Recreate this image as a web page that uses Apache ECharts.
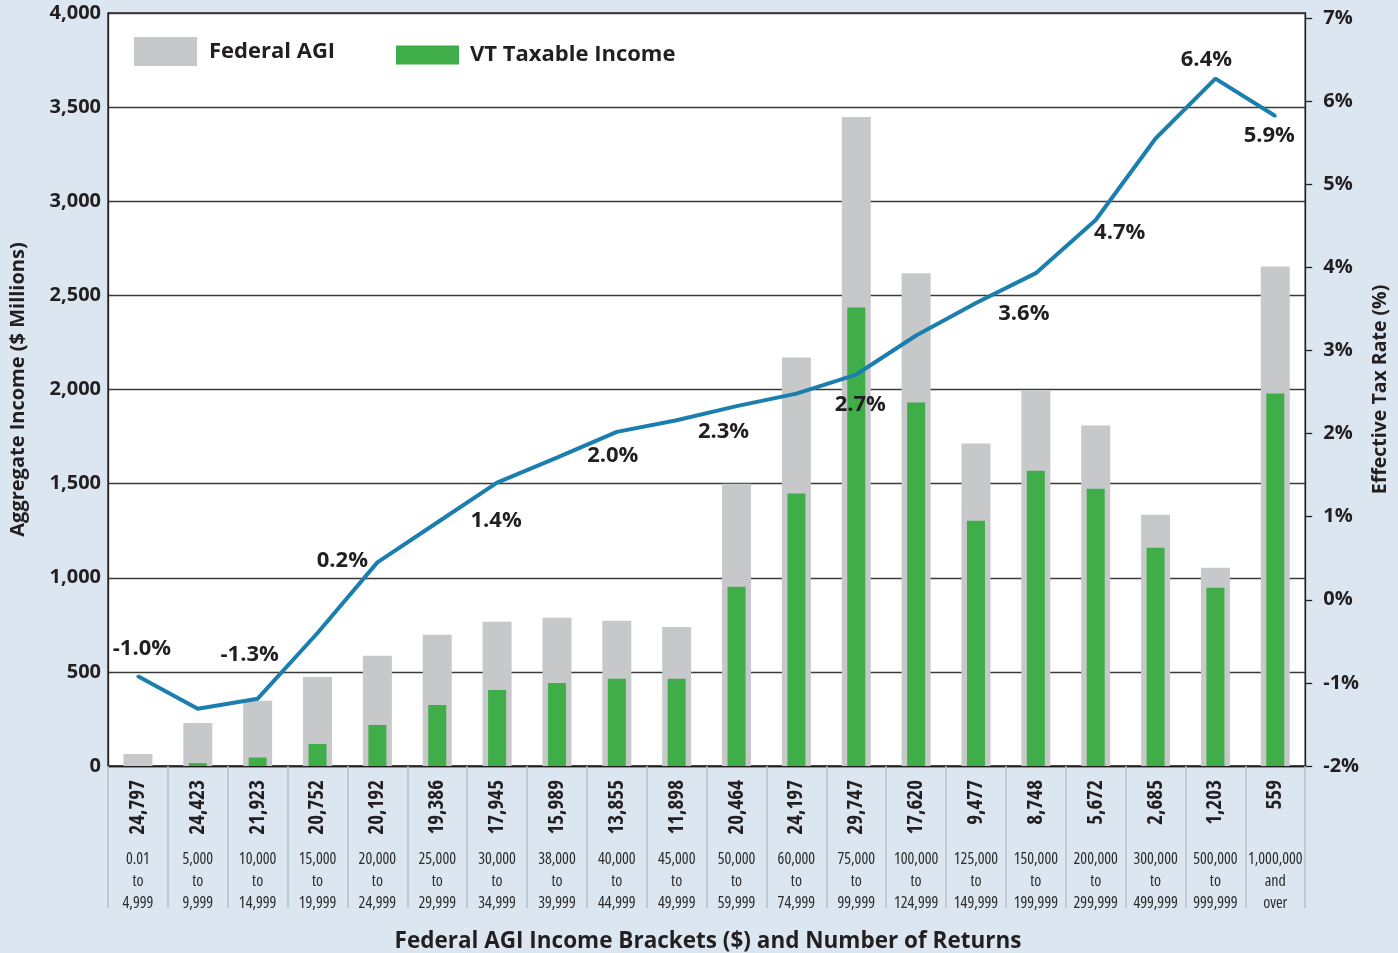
<!DOCTYPE html>
<html>
<head>
<meta charset="utf-8">
<title>Federal AGI and VT Taxable Income by bracket</title>
<script src="https://cdn.jsdelivr.net/npm/echarts@6/dist/echarts.min.js"></script>
<style>
  html, body { margin: 0; padding: 0; background: #dce6f0; }
  #chart { width: 1398px; height: 953px; }
</style>
</head>
<body>
<div id="chart"></div>
<script>
// number of returns per bracket
var returnsCount = [24797, 24423, 21923, 20752, 20192, 19386, 17945, 15989, 13855, 11898,
  20464, 24197, 29747, 17620, 9477, 8748, 5672, 2685, 1203, 559];

// income brackets ($)
var brackets = ['0.01\nto\n4,999', '5,000\nto\n9,999', '10,000\nto\n14,999', '15,000\nto\n19,999',
  '20,000\nto\n24,999', '25,000\nto\n29,999', '30,000\nto\n34,999', '38,000\nto\n39,999',
  '40,000\nto\n44,999', '45,000\nto\n49,999', '50,000\nto\n59,999', '60,000\nto\n74,999',
  '75,000\nto\n99,999', '100,000\nto\n124,999', '125,000\nto\n149,999', '150,000\nto\n199,999',
  '200,000\nto\n299,999', '300,000\nto\n499,999', '500,000\nto\n999,999', '1,000,000\nand\nover'];

// $ millions
var federalAGI = [64, 229, 346, 473, 585, 697, 766, 787, 771, 739,
  1500, 2170, 3447, 2617, 1713, 1995, 1809, 1335, 1053, 2654];
var vtTaxable = [0, 15, 45, 117, 218, 324, 404, 441, 463, 463,
  952, 1447, 2436, 1931, 1303, 1569, 1473, 1160, 947, 1979];

// effective tax rate (%)
var taxRate = [-0.92, -1.31, -1.19, -0.40, 0.45, 0.93, 1.41, 1.71, 2.02, 2.16,
  2.33, 2.48, 2.71, 3.18, 3.57, 3.93, 4.57, 5.55, 6.27, 5.82];
var rateLabels = ['-1.0%', '', '-1.3%', '', '0.2%', '', '1.4%', '', '2.0%', '',
  '2.3%', '', '2.7%', '', '', '3.6%', '4.7%', '', '6.4%', '5.9%'];

var leftTicks = [0, 500, 1000, 1500, 2000, 2500, 3000, 3500, 4000];
var rightTicks = [-2, -1, 0, 1, 2, 3, 4, 5, 6, 7];

// where each rate label sits relative to its point (px)
var labelOffsets = [[4, -28], null, [-8, -44], null, [-35, -2], null, [-1, 38], null, [-4, 24], null,
  [-13, 26], null, [4, 30], null, null, [-12, 41], [24, 13], null, [-9, -19], [-6, 20]];

var dark = '#231f20';
var boldFont = "'Open Sans', sans-serif";

var rateData = taxRate.map(function (v, i) {
  var item = { value: v };
  if (rateLabels[i]) {
    item.label = {
      show: true,
      position: 'inside',
      offset: labelOffsets[i],
      formatter: rateLabels[i],
      color: dark,
      fontFamily: boldFont,
      fontWeight: 'bold',
      fontSize: 22
    };
  }
  return item;
});

var chart = echarts.init(document.getElementById('chart'));
chart.setOption({
  backgroundColor: '#dce6f0',
  animation: false,
  title: {
    text: 'Federal AGI Income Brackets ($) and Number of Returns',
    left: 703,
    textAlign: 'center',
    top: 925,
    textStyle: { color: dark, fontFamily: boldFont, fontWeight: 'bold', fontSize: 22.5 }
  },
  legend: [{
    data: ['Federal AGI'],
    left: 134, top: 37, padding: 0,
    itemWidth: 63, itemHeight: 29,
    icon: 'rect',
    selectedMode: false,
    textStyle: { color: dark, fontFamily: boldFont, fontWeight: 'bold', fontSize: 22, padding: [0, 0, 0, 7] }
  }, {
    data: ['VT Taxable Income'],
    left: 396, top: 44, padding: 0,
    itemWidth: 63, itemHeight: 19,
    icon: 'rect',
    selectedMode: false,
    textStyle: { color: dark, fontFamily: boldFont, fontWeight: 'bold', fontSize: 22, padding: [0, 0, 0, 6] }
  }],
  grid: {
    left: 108, right: 92, top: 13, bottom: 187,
    show: true,
    backgroundColor: '#ffffff',
    borderColor: dark,
    borderWidth: 1.3
  },
  xAxis: [{
    type: 'category',
    position: 'bottom',
    data: returnsCount.map(function (n) { return n.toLocaleString('en-US'); }),
    axisLine: { lineStyle: { color: dark, width: 1.3 } },
    axisTick: { show: true, interval: 0, length: 142, lineStyle: { color: '#b7bec8', width: 1.5 } },
    axisLabel: {
      interval: 0, rotate: 90, margin: 14,
      color: dark, fontFamily: boldFont, fontStyle: 'condensed', fontWeight: 'bold', fontSize: 21
    }
  }, {
    type: 'category',
    position: 'bottom',
    data: brackets,
    axisLine: { show: false },
    axisTick: { show: false },
    axisLabel: {
      interval: 0, margin: 82,
      color: '#2b2b2b', fontFamily: boldFont, fontStyle: 'semi-condensed', fontSize: 16, lineHeight: 22
    }
  }],
  yAxis: [{
    type: 'value',
    min: 0, max: 4000, interval: 500,
    name: 'Aggregate Income ($ Millions)',
    nameLocation: 'middle',
    nameGap: 80,
    nameRotate: 90,
    nameTextStyle: { color: dark, fontFamily: boldFont, fontWeight: 'bold', fontSize: 20 },
    axisLine: { show: true, lineStyle: { color: dark, width: 1.3 } },
    axisTick: { show: false },
    axisLabel: {
      margin: 7, color: dark, fontFamily: boldFont, fontWeight: 'bold', fontSize: 20,
      customValues: leftTicks,
      formatter: function (v) { return v.toLocaleString('en-US'); }
    },
    splitLine: { show: true, lineStyle: { color: '#3a3a3a', width: 1.3 } }
  }, {
    type: 'value',
    position: 'right',
    min: -2, max: 7.06,
    name: 'Effective Tax Rate (%)',
    nameLocation: 'middle',
    nameGap: 58,
    nameRotate: 90,
    nameTextStyle: { color: dark, fontFamily: boldFont, fontWeight: 'bold', fontSize: 19.5 },
    axisLine: { show: true, lineStyle: { color: dark, width: 1.3 } },
    axisTick: { show: true, length: 7, customValues: rightTicks, lineStyle: { color: dark, width: 1.3 } },
    axisLabel: {
      margin: 18, color: dark, fontFamily: boldFont, fontWeight: 'bold', fontSize: 20,
      customValues: rightTicks,
      formatter: function (v) { return Math.round(v) + '%'; }
    },
    splitLine: { show: false }
  }],
  series: [{
    name: 'Federal AGI',
    type: 'bar',
    xAxisIndex: 0, yAxisIndex: 0,
    barWidth: 29,
    itemStyle: { color: '#c7c8ca' },
    data: federalAGI
  }, {
    name: 'VT Taxable Income',
    type: 'bar',
    xAxisIndex: 1, yAxisIndex: 0,
    barWidth: 18,
    itemStyle: { color: '#3fae49' },
    data: vtTaxable
  }, {
    name: 'Effective Tax Rate',
    type: 'line',
    xAxisIndex: 0, yAxisIndex: 1,
    symbol: 'circle',
    symbolSize: 3,
    itemStyle: { color: '#1a7fae' },
    lineStyle: { color: '#1a7fae', width: 4 },
    z: 5,
    data: rateData
  }]
});
</script>
</body>
</html>
